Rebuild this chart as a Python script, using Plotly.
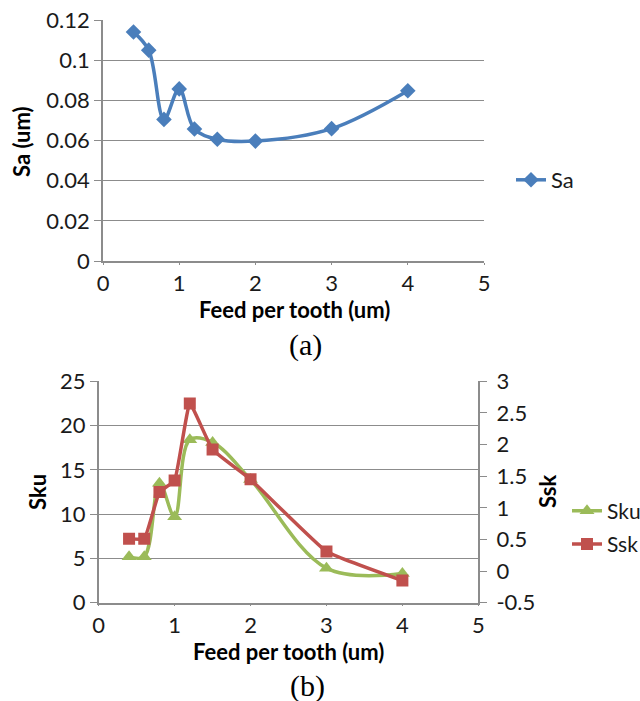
import plotly.graph_objects as go

feed = [0.4, 0.6, 0.8, 1.0, 1.2, 1.5, 2.0, 3.0, 4.0]
sa = [0.114, 0.105, 0.0705, 0.0857, 0.0657, 0.0606, 0.0597, 0.0659, 0.0848]
sku = [5.2, 5.2, 13.5, 9.7, 18.4, 18.1, 13.9, 3.9, 3.3]
ssk = [0.51, 0.51, 1.25, 1.43, 2.65, 1.92, 1.45, 0.31, -0.15]

sa_ticks = [0, 0.02, 0.04, 0.06, 0.08, 0.1, 0.12]
sku_ticks = [0, 5, 10, 15, 20, 25]
ssk_ticks = [-0.5, 0, 0.5, 1, 1.5, 2, 2.5, 3]
ssk_labels = ["-0.5", "0", "0.5", "1", "1.5", "2", "2.5", "3"]
x_ticks = [0, 1, 2, 3, 4, 5]

W, H = 640, 701
BLUE = "#4A7EBB"
GREEN = "#9BBB59"
RED = "#C0504D"
GRID = "#8C8C8C"
FONT = "Lato"
TICKF = dict(family=FONT, size=22, color="#1a1a1a")

def px(x):
    return x / W

def py(y):
    return 1 - y / H

fig = go.Figure()

fig.add_trace(go.Scatter(x=feed, y=sa, name="Sa", mode="lines+markers",
                         line=dict(color=BLUE, width=3.5, shape="spline", smoothing=1),
                         marker=dict(symbol="diamond", size=12, color=BLUE),
                         xaxis="x", yaxis="y", legend="legend"))
fig.add_trace(go.Scatter(x=feed, y=sku, name="Sku", mode="lines+markers",
                         line=dict(color=GREEN, width=3.5, shape="spline", smoothing=1),
                         marker=dict(symbol="triangle-up", size=13, color=GREEN),
                         xaxis="x2", yaxis="y2", legend="legend2", legendgroup="g1"))
fig.add_trace(go.Scatter(x=feed, y=ssk, name="Ssk", mode="lines+markers",
                         line=dict(color=RED, width=3.5, shape="spline", smoothing=0.3),
                         marker=dict(symbol="square", size=12, color=RED),
                         xaxis="x2", yaxis="y3", legend="legend2", legendgroup="g2"))

xcommon = dict(range=[0, 5], tickvals=x_ticks, showgrid=False, showline=True,
               linecolor=GRID, linewidth=1.5, ticks="outside", ticklen=2,
               tickcolor=GRID, tickfont=TICKF, zeroline=False, automargin=False)
# overlay axes that only draw the longer tick marks (no labels)
xmarks = dict(range=[0, 5], tickvals=x_ticks, showgrid=False, showline=False,
              ticks="outside", ticklen=7, tickwidth=1.2, tickcolor=GRID,
              showticklabels=False, zeroline=False, automargin=False)
ycommon = dict(showgrid=True, gridcolor=GRID, gridwidth=1.2, showline=True,
               linecolor=GRID, linewidth=1.5, ticks="outside", ticklen=7,
               tickcolor=GRID, tickfont=TICKF, zeroline=False, automargin=False)

fig.update_layout(
    width=W, height=H,
    margin=dict(l=0, r=0, t=0, b=0, autoexpand=False),
    paper_bgcolor="white", plot_bgcolor="white",
    xaxis=dict(domain=[px(103), px(484)], anchor="y", **xcommon),
    xaxis3=dict(overlaying="x", anchor="y", **xmarks),
    yaxis=dict(domain=[py(261), py(20)], range=[0, 0.12], tickvals=sa_ticks,
               anchor="x", **ycommon),
    xaxis2=dict(domain=[px(98.7), px(478.3)], anchor="y2", **xcommon),
    xaxis4=dict(overlaying="x2", anchor="y2", **xmarks),
    yaxis2=dict(domain=[py(602.7), py(381.3)], range=[0, 25], tickvals=sku_ticks,
                anchor="x2", **ycommon),
    yaxis3=dict(overlaying="y2", side="right", anchor="x2", range=[-0.5, 3],
                tickvals=ssk_ticks, ticktext=ssk_labels, showgrid=False, showline=True,
                linecolor=GRID, linewidth=1.5, ticks="outside", ticklen=7,
                tickcolor=GRID, tickfont=TICKF, zeroline=False, automargin=False,
                ticklabelstandoff=5),
    legend=dict(x=px(511), y=py(180), xanchor="left", yanchor="middle",
                font=dict(family=FONT, size=22, color="#1a1a1a"),
                bgcolor="rgba(0,0,0,0)", itemwidth=30),
    legend2=dict(x=px(567), y=py(527.5), xanchor="left", yanchor="middle",
                 font=dict(family=FONT, size=21, color="#1a1a1a"),
                 bgcolor="rgba(0,0,0,0)", itemwidth=30, tracegroupgap=3),
    showlegend=True,
)

def ann(text, x, y, size, bold=True, angle=0, family=FONT):
    fig.add_annotation(text=f"<b>{text}</b>" if bold else text, x=px(x), y=py(y),
                       xref="paper", yref="paper", showarrow=False, textangle=angle,
                       font=dict(family=family, size=size, color="#000"),
                       xanchor="center", yanchor="middle")

ann("Feed per tooth (um)", 294, 309, 22)
ann("Feed per tooth (um)", 288, 651, 22)
ann("Sa (um)", 22, 142, 22, angle=-90)
ann("Sku", 37, 492, 22, angle=-90)
ann("Ssk", 547, 492, 22, angle=-90)
ann("(a)", 305, 345, 30, bold=False, family="Liberation Serif")
ann("(b)", 307, 686, 30, bold=False, family="Liberation Serif")

fig.write_html("out.html", config={"displayModeBar": False},
               post_script="document.body.style.margin='0';document.body.style.overflow='hidden';")
